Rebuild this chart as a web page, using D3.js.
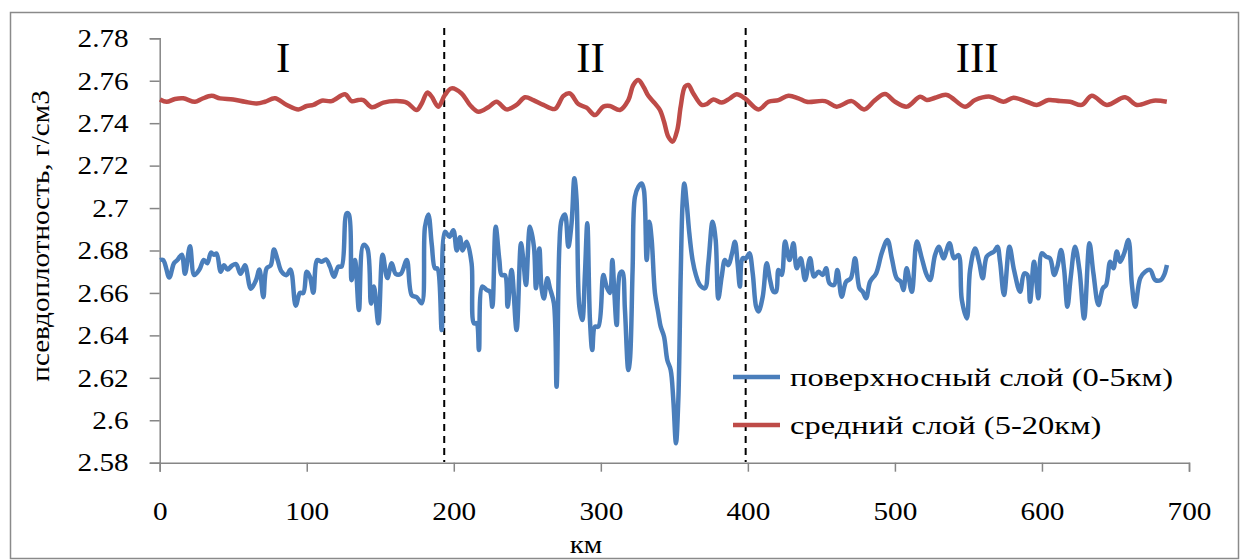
<!DOCTYPE html>
<html><head><meta charset="utf-8">
<script src="https://cdn.jsdelivr.net/npm/d3@7"></script>
<style>body{margin:0;background:#fff}svg{display:block}</style>
</head><body>
<svg id="c" width="1247" height="560"></svg>
<script>
// ---- data ----
const surfaceKm = [0.2,2.4,6.5,9.7,12,15,17.2,20.6,23.5,27,30,32.4,34.9,36.9,38.7,41.5,43.7,46.2,48.9,51.9,55,58,62,65.5,67.8,70.5,72.7,75.5,77.7,80.2,82.9,86.3,89,92.5,95.4,97.7,100,102.2,104.5,107.2,110.2,113.1,115.8,118.5,121.5,123.7,127.1,128.7,130.5,132.8,135.5,138.5,141.2,143.7,145.7,148.7,151.6,154.8,157.8,160.5,163.9,168,171.4,174.8,178.2,180.4,182.7,185,187.2,188.8,191.8,
194,197,199.7,202,204.2,206,208.7,212.1,213.7,215.5,217.1,219.4,222.3,224.6,226.2,228.5,231,232.5,234.8,236.6,239.3,242.7,245.7,247.3,249.1,251.8,254.5,255.9,258.2,259.7,261.3,263.6,265.4,268.1,269.9,271.8,273.3,275.6,277.9,280.1,282,283.5,285.4,287.4,289.2,290.8,292.6,294.2,296,298.3,301.7,303.9,306.2,307.8,309.2,310.8,313,314.6,316.4,318.7,319.8,321.6,323.2,325.5,327.8,329.3,331.2,333,334.6,336.8,339.1,340.7,343,345.2,347.5,349.3,351.1,352.7,354.3,355.6,356.8,358.4,360.2,362.4,364.7,367.4,370.8,373.1,376,378.1,379.9,382.2,384.4,386.7,389,391.2,393,394.6,396.4,398.7,
401,403.3,405.6,407.2,410.1,412.8,415.1,417.4,419.2,420.8,423,425.3,428.3,431,433.2,435.9,438.9,442.3,445,448,450.9,453.2,455.5,458.6,460.9,463.8,466.8,470,472.9,475.9,478.1,480.4,483.1,487.2,491,494.9,497.9,501.2,504,505.8,508,511.5,514.9,518.3,521.6,523.9,527.3,530,533,537.1,540.2,543.2,545.5,548.9,551.1,554.5,557.2,559.7,562.4,565.2,567.4,569.7,571.5,574.2,577.9,581,585.1,587.9,590.1,591.9,594.6,597.6,599.9,602.8,605.5,608.3,610.5,613,615.1,617.3,619.6,622.5,625.5,628.7,632.3,635,638.4,641.4,643.6,646.4,648.6,650.9,653.1,655.9,658.8,661.1,663.4,666.8,670.2,673.6,677,680.9,683.1,685];
const surfaceVal = [2.6755,2.6755,2.6673,2.674,2.6755,2.678,2.669,2.682,2.6684,2.671,2.6755,2.674,2.679,2.678,2.6786,2.670,2.673,2.671,2.6727,2.6736,2.669,2.673,2.662,2.666,2.671,2.658,2.6716,2.673,2.6805,2.6755,2.670,2.6684,2.671,2.654,2.660,2.660,2.670,2.6676,2.6601,2.6755,2.6747,2.6758,2.6724,2.6676,2.6724,2.6724,2.6975,2.697,2.666,2.6755,2.652,2.6826,2.681,2.655,2.663,2.6457,2.678,2.667,2.674,2.669,2.669,2.6755,2.659,2.658,2.6551,2.691,2.697,2.683,2.6716,2.6716,2.6425,
2.6888,2.6865,2.6896,2.680,2.6862,2.680,2.6841,2.674,2.6457,2.6457,2.6331,2.663,2.6614,2.6606,2.6535,2.6912,2.6755,2.6684,2.6684,2.6535,2.6708,2.6425,2.6834,2.6755,2.6637,2.6912,2.6818,2.6622,2.681,2.6622,2.6574,2.6669,2.6622,2.6551,2.6158,2.6818,2.6943,2.697,2.6818,2.6928,2.714,2.704,2.6535,2.6472,2.6692,2.6928,2.6472,2.6331,2.6441,2.6441,2.6684,2.663,2.660,2.6755,2.660,2.6449,2.6692,2.670,2.652,2.6237,2.6284,2.6708,2.7053,2.710,2.7116,2.7085,2.6755,2.6936,2.6849,2.660,2.6504,2.6441,2.6394,2.6284,2.6237,2.6096,2.5892,2.6096,2.6677,2.7022,2.7116,2.7022,2.688,2.6755,2.6684,2.6637,2.6622,2.674,2.6936,2.6849,2.6574,2.6677,2.6755,2.6731,2.678,2.6841,2.674,2.663,2.6763,2.6763,
2.6787,2.6692,2.6535,2.6512,2.6582,2.674,2.6661,2.6606,2.6606,2.6708,2.6685,2.6842,2.6755,2.6834,2.6716,2.6763,2.6661,2.6763,2.6677,2.670,2.6685,2.6716,2.6645,2.6637,2.6708,2.6582,2.6653,2.6669,2.6763,2.6622,2.6606,2.6575,2.6653,2.6692,2.6787,2.685,2.6763,2.6669,2.6653,2.6614,2.6716,2.6606,2.6842,2.6763,2.6685,2.6661,2.6779,2.6818,2.6763,2.6834,2.6763,2.6779,2.6567,2.648,2.6708,2.681,2.6747,2.6669,2.6771,2.6787,2.6795,2.6818,2.6747,2.659,2.6818,2.6708,2.6606,2.6692,2.6685,2.6559,2.6747,2.6575,2.6787,2.6771,2.6763,2.6685,2.6724,2.6802,2.6708,2.6535,2.6677,2.6818,2.6708,2.648,2.6834,2.6692,2.6543,2.6622,2.6637,2.6747,2.6716,2.6795,2.6747,2.6787,2.685,2.6645,2.6535,2.6669,2.670,2.6708,2.6661,2.6661,2.6685,2.6732];

const middleKm = [0.2,4.7,10.4,16,24,28.5,35.3,41,50,58,66,71.6,78.4,86.4,94.3,100,104.5,110.1,116.9,126,130.5,135,138.5,144.2,152.1,161.2,168,174.8,178.2,182,185,189.5,
194,198.5,205.3,211,216.7,223.5,229.1,235.9,242.7,248.4,254.1,260.9,268.8,274.5,279,284.7,290.3,296,301.7,306.2,313,318.7,322.1,325.5,329,332.3,336.8,340.2,343,345.9,348.8,352,354.3,357.2,359.5,362.9,368.6,372,376.5,382.2,387.8,392.4,398,
407.2,414,420.8,427.6,434.4,440,452.5,460.4,470.6,479,486.5,493.3,500.1,508.1,517.1,521.7,527.3,535.3,547.7,554.5,564.7,573.8,580.6,589.7,596.5,604.4,612.3,619.1,627.1,633.9,644.1,656.5,664.5,675.8,684.9];
const middleVal = [2.7512,2.7501,2.7514,2.7517,2.7501,2.7514,2.7529,2.7517,2.7512,2.7501,2.7493,2.7501,2.7517,2.7486,2.7465,2.7481,2.7486,2.7506,2.7504,2.7536,2.7504,2.7509,2.7509,2.7475,2.7497,2.7504,2.7497,2.7462,2.7493,2.7544,2.7525,2.7478,
2.7533,2.7564,2.754,2.7486,2.7454,2.7475,2.7501,2.7465,2.7486,2.7522,2.7509,2.7486,2.7467,2.7528,2.754,2.749,2.7473,2.7438,2.7478,2.7481,2.7462,2.7509,2.758,2.7603,2.7572,2.7529,2.7493,2.7462,2.7407,2.7336,2.7313,2.7368,2.7478,2.7572,2.758,2.754,2.7486,2.749,2.7512,2.7497,2.7517,2.7536,2.7517,
2.7465,2.7501,2.7509,2.7529,2.7517,2.7501,2.7504,2.7478,2.7504,2.7465,2.7509,2.7537,2.7501,2.7478,2.7525,2.7509,2.752,2.7533,2.7478,2.7509,2.7525,2.7501,2.752,2.7501,2.7486,2.7509,2.7504,2.7501,2.7486,2.7529,2.7486,2.7522,2.7486,2.7506,2.7501];

const seriesNames = ["поверхносный слой (0-5км)", "средний слой (5-20км)"];
const yTicks = [2.58,2.60,2.62,2.64,2.66,2.68,2.70,2.72,2.74,2.76,2.78];
const yTickLabels = ["2.58","2.6","2.62","2.64","2.66","2.68","2.7","2.72","2.74","2.76","2.78"];
const xTicks = [0,100,200,300,400,500,600,700];
const boundaries = [193.5, 398.5];
const zoneLabels = ["I","II","III"];
const zoneKm = [84, 293, 556];
const xTitle = "км";
const yTitle = "псевдоплотность, г/см3";

// ---- drawing ----
const svg = d3.select("#c");
const serif = "'Liberation Serif','Times New Roman',serif";
const SX = 1.17;

svg.append("rect").attr("x",10.5).attr("y",12.5).attr("width",1228).attr("height",546)
  .attr("fill","none").attr("stroke","#8a8a8a").attr("stroke-width",1.5);

const x = d3.scaleLinear().domain([0,700]).range([159.7,1189]);
const y = d3.scaleLinear().domain([2.58,2.78]).range([462.7,38.3]);

const yAxis = svg.append("g").attr("transform","translate(159.7,0)")
  .call(d3.axisLeft(y).tickValues(yTicks).tickSize(10).tickPadding(0)
        .tickFormat((d,i)=>yTickLabels[yTicks.indexOf(d)]));
yAxis.selectAll("text").attr("x",0).attr("dy",null).attr("dominant-baseline","central")
  .attr("transform",`translate(-31,0) scale(${SX},1)`)
  .attr("font-family",serif).attr("font-size",25).attr("fill","#000");

const xAxis = svg.append("g").attr("transform","translate(0,462.7)")
  .call(d3.axisBottom(x).tickValues(xTicks).tickSize(9).tickFormat(d3.format("d")));
xAxis.selectAll("text").attr("y",0).attr("dy",null)
  .attr("transform",`translate(0,57) scale(${SX},1)`)
  .attr("font-family",serif).attr("font-size",25).attr("fill","#000");

[yAxis,xAxis].forEach(g=>{
  g.select(".domain").attr("stroke","#868686").attr("stroke-width",1.5);
  g.selectAll(".tick line").attr("stroke","#868686").attr("stroke-width",1.5);
});

svg.append("text").attr("transform",`translate(586,553) scale(${SX},1)`)
  .attr("text-anchor","middle").attr("font-family",serif).attr("font-size",25).text(xTitle);
svg.append("text").attr("transform","translate(49,236) rotate(-90) scale(1.12,1)")
  .attr("text-anchor","middle").attr("font-family",serif).attr("font-size",26).text(yTitle);

// boundaries
svg.selectAll("line.bd").data(boundaries).join("line").attr("class","bd")
  .attr("x1",d=>x(d)).attr("x2",d=>x(d)).attr("y1",28).attr("y2",462)
  .attr("stroke","#000").attr("stroke-width",2).attr("stroke-dasharray","7,5");

svg.selectAll("text.zone").data(zoneLabels).join("text").attr("class","zone")
  .attr("x",(d,i)=>x(zoneKm[i])).attr("y",72).attr("text-anchor","middle")
  .attr("font-family",serif).attr("font-size",43).text(d=>d);

const line = d3.line().x(d=>x(d[0])).y(d=>y(d[1])).curve(d3.curveCatmullRom.alpha(0.5));
const surf = surfaceKm.map((k,i)=>[k,surfaceVal[i]]);
const mid = middleKm.map((k,i)=>[k,middleVal[i]]);
const colors = ["#4a7ebb","#be4b48"];
svg.append("path").datum(mid).attr("d",line).attr("fill","none").attr("stroke",colors[1])
  .attr("stroke-width",4.5).attr("stroke-linejoin","round");
svg.append("path").datum(surf).attr("d",line).attr("fill","none").attr("stroke",colors[0])
  .attr("stroke-width",4.5).attr("stroke-linejoin","round");

// legend
const leg = svg.append("g");
seriesNames.forEach((n,i)=>{
  const ly = 377 + i*48;
  leg.append("line").attr("x1",733).attr("x2",780).attr("y1",ly).attr("y2",ly)
    .attr("stroke",colors[i]).attr("stroke-width",4.5);
  leg.append("text").attr("transform",`translate(790,${ly}) scale(1.3,1)`).attr("dominant-baseline","central")
    .attr("font-family",serif).attr("font-size",25).text(n);
});
</script>
</body></html>
